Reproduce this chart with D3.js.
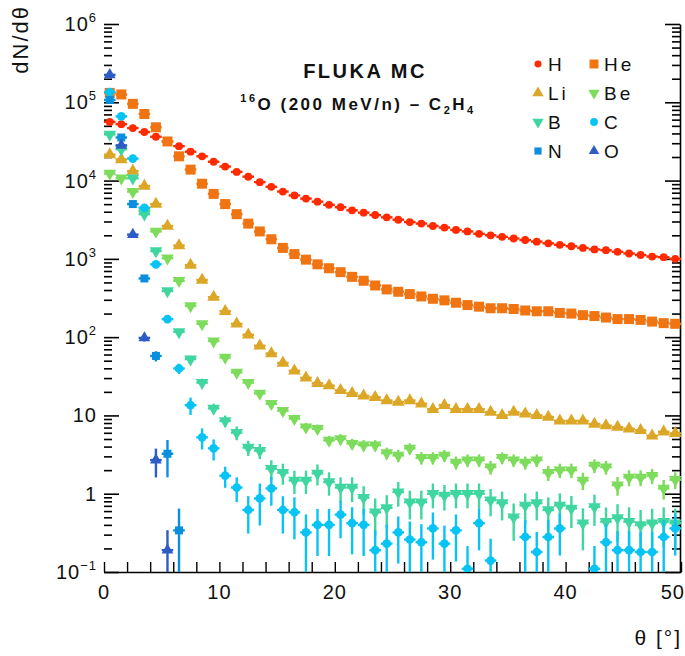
<!DOCTYPE html>
<html>
<head>
<meta charset="utf-8">
<script src="https://cdn.jsdelivr.net/npm/d3@7/dist/d3.min.js"></script>
<style>
  body { margin: 0; background: #fff; }
  svg { display: block; font-family: "Liberation Sans", Arial, sans-serif; }
</style>
</head>
<body>
<svg id="chart" width="685" height="656"></svg>
<script>
// bin centres of the theta histogram, 1 degree wide
var binCenters = d3.range(0.5, 50, 1);

var hVals = [56200, 52500, 46800, 41700, 36300, 31600, 27500, 23400, 20400, 17400,
  15100, 12900, 11200, 9550, 8320, 7240, 6460, 5890, 5370, 4900,
  4570, 4170, 3890, 3630, 3390, 3160, 2950, 2820, 2630, 2510,
  2340, 2240, 2090, 2000, 1910, 1820, 1740, 1660, 1580, 1510,
  1450, 1380, 1320, 1290, 1230, 1170, 1120, 1070, 1050, 1000];

var heVals = [131800, 125900, 95500, 70800, 47900, 31600, 20400, 13800, 9120, 6760,
  5010, 3720, 2820, 2240, 1780, 1380, 1150, 977, 851, 759,
  676, 589, 525, 457, 407, 380, 355, 331, 309, 295,
  275, 257, 245, 234, 234, 229, 219, 214, 214, 204,
  200, 191, 186, 178, 170, 170, 166, 158, 151, 148];

var liVals = [21400, 18600, 13200, 8510, 5010, 2630, 1480, 832, 537, 324,
  214, 148, 107, 77.6, 61.7, 46.8, 37.2, 30.2, 25.7, 24.0,
  20.9, 19.1, 17.8, 17.0, 15.5, 14.8, 15.5, 14.1, 12.0, 13.5,
  12.0, 12.0, 12.0, 11.0, 10.0, 11.0, 10.5, 10.0, 9.55, 8.51,
  8.51, 8.51, 7.76, 7.41, 7.08, 6.76, 6.46, 5.50, 6.17, 5.89];

var beVals = [12300, 10700, 7240, 4170, 2240, 1020, 525, 251, 148, 89.1,
  55.0, 35.5, 26.3, 19.1, 14.1, 11.5, 9.12, 7.08, 6.76, 4.79,
  5.01, 4.37, 4.17, 4.17, 3.31, 3.09, 3.80, 2.88, 2.88, 3.09,
  2.51, 2.69, 2.69, 2.19, 2.88, 2.69, 2.51, 2.69, 1.86, 2.00,
  2.00, 1.48, 2.29, 2.19, 1.29, 1.62, 1.62, 1.70, 1.17, 1.51];
var beErr = [0.01, 0.01, 0.01, 0.01, 0.02, 0.02, 0.03, 0.04, 0.05, 0.06,
  0.07, 0.08, 0.09, 0.10, 0.10, 0.11, 0.12, 0.13, 0.13, 0.15,
  0.15, 0.15, 0.16, 0.16, 0.17, 0.18, 0.16, 0.18, 0.18, 0.17,
  0.19, 0.18, 0.18, 0.20, 0.17, 0.18, 0.19, 0.18, 0.22, 0.21,
  0.21, 0.25, 0.20, 0.20, 0.27, 0.23, 0.23, 0.22, 0.28, 0.24];

var bVals = [38900, 25100, 10700, 3720, 1260, 389, 117, 52.5, 26.3, 12.3,
  8.51, 6.03, 3.89, 3.55, 2.09, 1.86, 1.48, 1.48, 1.82, 1.41,
  1.20, 1.20, 0.89, 0.58, 0.66, 1.05, 0.78, 0.78, 1.00, 0.95,
  1.00, 1.00, 1.00, 0.83, 0.76, 0.50, 0.71, 0.76, 0.62, 0.71,
  0.65, 0.42, 0.68, 0.44, 0.49, 0.44, 0.40, 0.42, 0.44, 0.42];
var bErr = [0.01, 0.01, 0.01, 0.02, 0.03, 0.05, 0.07, 0.10, 0.12, 0.15,
  0.17, 0.20, 0.22, 0.22, 0.28, 0.30, 0.33, 0.33, 0.30, 0.33,
  0.35, 0.35, 0.40, 0.50, 0.45, 0.35, 0.40, 0.40, 0.35, 0.36,
  0.35, 0.35, 0.35, 0.38, 0.40, 0.50, 0.42, 0.40, 0.45, 0.42,
  0.44, 0.55, 0.43, 0.52, 0.50, 0.52, 0.55, 0.53, 0.52, 0.53];

var cVals = [134900, 66100, 19100, 4470, 851, 170, 39.8, 13.5, 5.25, 3.80,
  1.70, 1.20, 0.62, 0.87, 1.17, 0.62, 0.58, 0.32, 0.40, 0.40,
  0.54, 0.42, 0.40, 0.19, 0.23, 0.32, 0.26, 0.24, 0.36, 0.23,
  0.34, 0.11, 0.42, 0.14, null, null, 0.28, 0.18, 0.28, 0.36,
  null, null, 0.11, 0.24, 0.19, 0.19, 0.18, 0.18, 0.28, 0.36];
var cErr = [0.01, 0.01, 0.01, 0.02, 0.04, 0.08, 0.15, 0.25, 0.30, 0.30,
  0.30, 0.35, 0.50, 0.55, 0.40, 0.50, 0.55, 0.70, 0.60, 0.60,
  0.50, 0.60, 0.60, 0.80, 0.75, 0.60, 0.70, 0.70, 0.60, 0.70,
  0.60, 0.95, 0.55, 0.90, 0, 0, 0.65, 0.80, 0.65, 0.55,
  0, 0, 0.95, 0.70, 0.75, 0.75, 0.80, 0.80, 0.65, 0.55];

var nVals = [107200, 35500, 5010, 562, 57.5, 3.24, 0.34];
var nErr = [0.01, 0.01, 0.02, 0.05, 0.15, 0.50, 0.90];

var oVals = [223900, 28200, 2040, 97.7, 2.69, 0.19];
var oErr = [0.01, 0.02, 0.03, 0.10, 0.40, 0.80];

var yTickExps = [-1, 0, 1, 2, 3, 4, 5, 6];
var xTickLabels = [0, 10, 20, 30, 40, 50];

var series = [
  { name: "H",  vals: hVals,  err: null,   color: "#ff2a00", shape: "circle", size: 48 },
  { name: "He", vals: heVals, err: null,   color: "#f07412", shape: "square", size: 100 },
  { name: "Li", vals: liVals, err: null,   color: "#dca626", shape: "up",     size: 70 },
  { name: "Be", vals: beVals, err: beErr,  color: "#7ddc5c", shape: "down",   size: 70 },
  { name: "B",  vals: bVals,  err: bErr,   color: "#3fd6a0", shape: "down",   size: 70 },
  { name: "C",  vals: cVals,  err: cErr,   color: "#08c4f4", shape: "circle", size: 60 },
  { name: "N",  vals: nVals,  err: nErr,   color: "#0a8ede", shape: "square", size: 64 },
  { name: "O",  vals: oVals,  err: oErr,   color: "#2c5cc4", shape: "up",     size: 60 }
];

var svg = d3.select("#chart");
var x = d3.scaleLinear().domain([0, 50]).range([104, 681]);
var y = d3.scaleLog().domain([0.1, 1e6]).range([572, 24]);

function symbolPath(shape, size) {
  var t = shape === "circle" ? d3.symbolCircle : shape === "square" ? d3.symbolSquare : d3.symbolTriangle;
  return d3.symbol().type(t).size(size)();
}

// ---- axes
var minorVals = [];
yTickExps.forEach(function (e) {
  for (var m = 1; m < 10; m++) {
    var v = m * Math.pow(10, e);
    if (v <= 1e6) minorVals.push(v);
  }
});

var bottom = svg.append("g").attr("transform", "translate(0,572)")
  .call(d3.axisBottom(x).tickValues(d3.range(0, 51, 2)).tickSize(-10).tickSizeOuter(0).tickFormat(""));
bottom.select(".domain").attr("stroke-width", 1.6);
bottom.selectAll(".tick line").attr("stroke-width", 1.4);

svg.append("g").selectAll("text").data(xTickLabels).join("text")
  .attr("x", function (d) { return d === 50 ? 685 : x(d); })
  .attr("y", 599)
  .attr("text-anchor", function (d) { return d === 50 ? "end" : "middle"; })
  .attr("font-size", 20)
  .attr("letter-spacing", 1)
  .attr("fill", "#111")
  .text(function (d) { return d; });

var left = svg.append("g").attr("transform", "translate(104,0)")
  .call(d3.axisLeft(y).tickValues(minorVals).tickSize(-8).tickSizeOuter(0).tickFormat(""));
left.select(".domain").remove();
left.selectAll(".tick line")
  .attr("stroke-width", 1.6)
  .attr("x2", function (d) { return Math.abs(Math.log10(d) - Math.round(Math.log10(d))) < 1e-9 ? 15 : 8; });

var right = svg.append("g").attr("transform", "translate(680,0)")
  .call(d3.axisRight(y).tickValues(minorVals).tickSize(-8).tickSizeOuter(0).tickFormat(""));
right.select(".domain").attr("stroke-width", 1.6);
right.selectAll(".tick line")
  .attr("stroke-width", 1.6)
  .attr("x2", function (d) { return Math.abs(Math.log10(d) - Math.round(Math.log10(d))) < 1e-9 ? -15 : -8; });

var yLab = svg.append("g").selectAll("text").data(yTickExps).join("text")
  .attr("x", 97)
  .attr("y", function (e) { return y(Math.pow(10, e)) + 7; })
  .attr("text-anchor", "end")
  .attr("font-size", 20)
  .attr("letter-spacing", 1)
  .attr("fill", "#111");
yLab.each(function (e) {
  var t = d3.select(this);
  if (e === 0) { t.text("1"); return; }
  if (e === 1) { t.text("10"); return; }
  t.append("tspan").text("10");
  t.append("tspan").attr("dy", -9).attr("font-size", 13).text(e < 0 ? "\u2212" + (-e) : e);
});

svg.append("text")
  .attr("transform", "translate(28,5) rotate(-90)")
  .attr("text-anchor", "end")
  .attr("font-size", 22)
  .attr("letter-spacing", 2)
  .attr("fill", "#111")
  .text("dN/d\u03b8");

svg.append("text")
  .attr("x", 682).attr("y", 645)
  .attr("text-anchor", "end")
  .attr("font-size", 21)
  .attr("letter-spacing", 2)
  .attr("fill", "#111")
  .text("\u03b8 [\u00b0]");

// ---- data
svg.append("clipPath").attr("id", "plotClip")
  .append("rect").attr("x", 104).attr("y", 20).attr("width", 577).attr("height", 552);

var plot = svg.append("g").attr("clip-path", "url(#plotClip)");

series.forEach(function (s) {
  var pts = s.vals.map(function (v, i) {
    return { c: binCenters[i], v: v, e: s.err ? s.err[i] : 0 };
  }).filter(function (d) { return d.v != null; });

  var g = plot.append("g").attr("stroke", s.color).attr("fill", s.color);

  g.selectAll("line.h").data(pts).join("line").attr("class", "h")
    .attr("x1", function (d) { return x(d.c - 0.5); })
    .attr("x2", function (d) { return x(d.c + 0.5); })
    .attr("y1", function (d) { return y(d.v); })
    .attr("y2", function (d) { return y(d.v); })
    .attr("stroke-width", 2.4);

  g.selectAll("line.v").data(pts.filter(function (d) { return d.e > 0; })).join("line").attr("class", "v")
    .attr("x1", function (d) { return x(d.c); })
    .attr("x2", function (d) { return x(d.c); })
    .attr("y1", function (d) { return y(d.v * (1 + d.e)); })
    .attr("y2", function (d) { var lo = d.v * (1 - d.e); return lo > 0.05 ? y(lo) : 600; })
    .attr("stroke-width", 2.4);

  g.selectAll("path").data(pts).join("path")
    .attr("stroke", "none")
    .attr("d", symbolPath(s.shape, s.size))
    .attr("transform", function (d) {
      return "translate(" + x(d.c) + "," + y(d.v) + ")" + (s.shape === "down" ? " rotate(180)" : "");
    });
});

// ---- labels and legend
svg.append("text")
  .attr("x", 365).attr("y", 78)
  .attr("text-anchor", "middle")
  .attr("font-size", 20)
  .attr("font-weight", "bold")
  .attr("letter-spacing", 2.5)
  .attr("fill", "#111")
  .text("FLUKA MC");

var sub = svg.append("text")
  .attr("x", 358).attr("y", 110)
  .attr("text-anchor", "middle")
  .attr("font-size", 17)
  .attr("font-weight", "bold")
  .attr("letter-spacing", 2.5)
  .attr("fill", "#111");
sub.append("tspan").attr("font-size", 11).attr("dy", -8).text("16");
sub.append("tspan").attr("dy", 8).text("O (200 MeV/n) \u2013 C");
sub.append("tspan").attr("font-size", 11).attr("dy", 4).text("2");
sub.append("tspan").attr("dy", -4).text("H");
sub.append("tspan").attr("font-size", 11).attr("dy", 4).text("4");

var legend = svg.append("g").selectAll("g").data(series).join("g")
  .attr("transform", function (s, i) {
    return "translate(" + (i % 2 === 0 ? 538 : 594) + "," + (64 + Math.floor(i / 2) * 29) + ")";
  });
legend.append("path")
  .attr("fill", function (s) { return s.color; })
  .attr("d", function (s) { return symbolPath(s.shape, s.size * 0.8); })
  .attr("transform", function (s) { return s.shape === "down" ? "rotate(180)" : null; });
legend.append("text")
  .attr("x", 10).attr("y", 7)
  .attr("font-size", 19)
  .attr("letter-spacing", 3)
  .attr("fill", "#111")
  .text(function (s) { return s.name; });
</script>
</body>
</html>
